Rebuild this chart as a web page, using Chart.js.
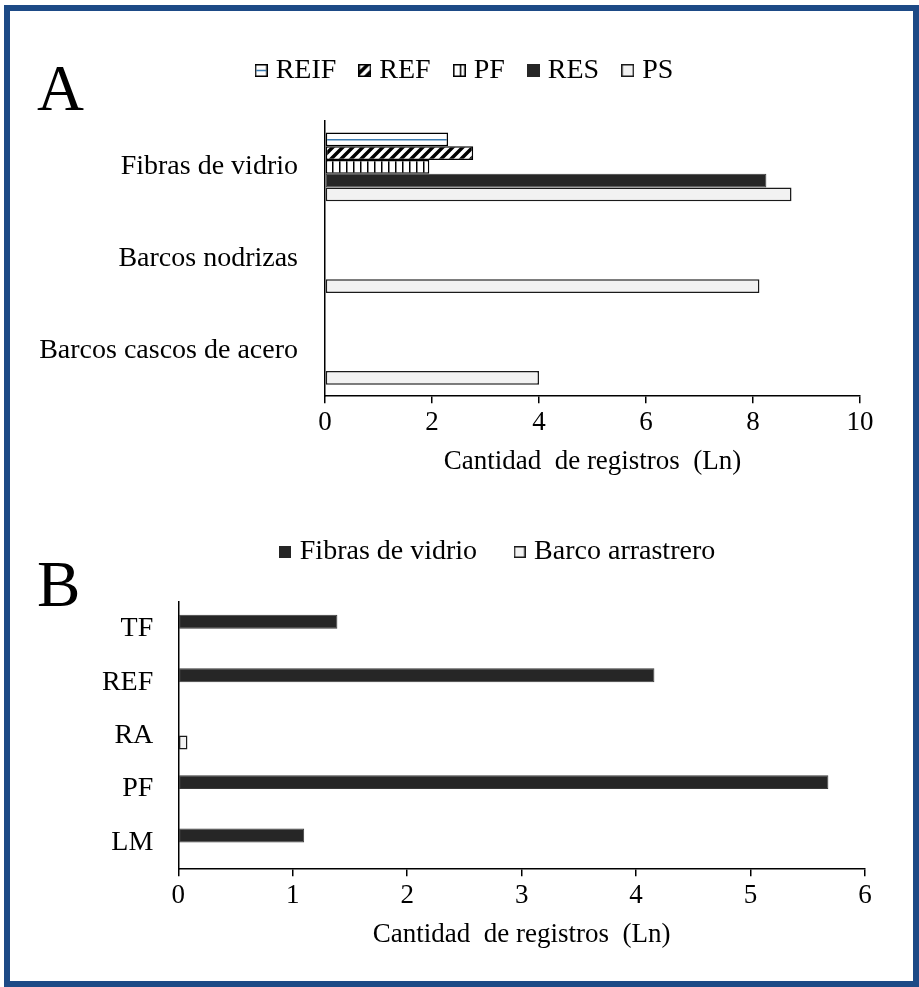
<!DOCTYPE html>
<html lang="es">
<head>
<meta charset="utf-8">
<title>Cantidad de registros (Ln)</title>
<script src="https://cdn.jsdelivr.net/npm/chart.js@4.4.1/dist/chart.umd.min.js"></script>
<style>
  html, body { margin: 0; padding: 0; background: #fff; }
  body { width: 919px; height: 987px; position: relative; overflow: hidden;
         font-family: 'Liberation Serif', 'Times New Roman', serif; }
  #marco { position: absolute; left: 4px; top: 5px; width: 915px; height: 982px;
           box-sizing: border-box; border: 6px solid #1d4a86; pointer-events: none; }
  .letra { position: absolute; font-size: 65px; line-height: 65px; color: #000; }
  #letraA { left: 37px; top: 56px; }
  #letraB { left: 37px; top: 552px; }
  #graficoA { position: absolute; left: 10px; top: 10px; width: 903px; height: 480px; }
  #graficoB { position: absolute; left: 80px; top: 495px; width: 834px; height: 485px; }
</style>
</head>
<body>
<canvas id="graficoA" width="903" height="480"></canvas>
<canvas id="graficoB" width="834" height="485"></canvas>
<div class="letra" id="letraA">A</div>
<div class="letra" id="letraB">B</div>
<div id="marco"></div>

<script>
// Panel A: categorias y series (Ln de la cantidad de registros)
const categoriasA = ['Fibras de vidrio', 'Barcos nodrizas', 'Barcos cascos de acero'];
const reifA = [2.3, null, null];
const refA = [2.77, null, null];
const pfA = [1.95, null, null];
const resA = [8.25, null, null];
const psA = [8.72, 8.12, 4.0];
const ticksA = [0, 2, 4, 6, 8, 10];

// Panel B
const categoriasB = ['TF', 'REF', 'RA', 'PF', 'LM'];
const fibrasB = [1.39, 4.16, null, 5.68, 1.1];
const arrastreroB = [null, null, 0.08, null, null];
const ticksB = [0, 1, 2, 3, 4, 5, 6];

const tituloEjeX = 'Cantidad  de registros  (Ln)';

Chart.defaults.font.family = "'Liberation Serif', 'Times New Roman', serif";
Chart.defaults.color = '#000';

// Tramas de relleno (como en Excel)
function crearTrama(tam, dibujar) {
    const c = document.createElement('canvas');
    c.width = tam;
    c.height = tam;
    const g = c.getContext('2d');
    g.fillStyle = '#ffffff';
    g.fillRect(0, 0, tam, tam);
    dibujar(g, tam);
    return g.createPattern(c, 'repeat');
}

const tramaHorizontal = crearTrama(7, (g, t) => {
    g.fillStyle = '#3a7ab0';
    g.fillRect(0, 3, t, 1.5);
});

const tramaDiagonal = crearTrama(10, (g, t) => {
    g.strokeStyle = '#000';
    g.lineWidth = 3.5;
    g.beginPath();
    g.moveTo(0, t); g.lineTo(t, 0);
    g.moveTo(-t / 2, t / 2); g.lineTo(t / 2, -t / 2);
    g.moveTo(t / 2, t * 1.5); g.lineTo(t * 1.5, t / 2);
    g.stroke();
});

const tramaVertical = crearTrama(7, (g, t) => {
    g.fillStyle = '#000';
    g.fillRect(0, 0, 1.5, t);
});

// Iconos de la leyenda (cuadro pequeno pegado al texto)
function crearIcono(tam, relleno, borde, grosor) {
    const c = document.createElement('canvas');
    c.width = tam;
    c.height = tam;
    const g = c.getContext('2d');
    g.fillStyle = relleno;
    g.fillRect(0, 0, tam, tam);
    g.strokeStyle = borde;
    g.lineWidth = grosor;
    g.strokeRect(grosor / 2, grosor / 2, tam - grosor, tam - grosor);
    return c;
}

function iconoReif(tam) {
    const c = crearIcono(tam, '#ffffff', '#000', 1.5);
    const g = c.getContext('2d');
    g.fillStyle = '#3a7ab0';
    g.fillRect(1.5, tam / 2 - 0.75, tam - 3, 1.5);
    return c;
}

const iconosA = [
    iconoReif(13),
    crearIcono(13, tramaDiagonal, '#000', 1.5),
    crearIcono(13, tramaVertical, '#000', 1.5),
    crearIcono(13, '#262626', '#262626', 1),
    crearIcono(13, '#f2f2f2', '#1a1a1a', 1.5)
];
const iconosB = [
    crearIcono(12, '#262626', '#262626', 1),
    crearIcono(12, '#f2f2f2', '#1a1a1a', 1.5)
];

function etiquetasCon(iconos) {
    return function (chart) {
        const items = Chart.defaults.plugins.legend.labels.generateLabels(chart);
        items.forEach((item, i) => { item.pointStyle = iconos[i]; });
        return items;
    };
}

// Espacio extra debajo de la leyenda y desplazamiento horizontal
const ajusteLeyenda = {
    id: 'ajusteLeyenda',
    beforeInit(chart, args, opts) {
        const fitOriginal = chart.legend.fit;
        chart.legend.fit = function () {
            fitOriginal.bind(chart.legend)();
            this.height += opts.gap || 0;
        };
    },
    afterLayout(chart, args, opts) {
        chart.legend.left += opts.dx || 0;
        chart.legend.right += opts.dx || 0;
    }
};

function ejeX(ticks) {
    return {
        min: ticks[0],
        max: ticks[ticks.length - 1],
        ticks: { stepSize: ticks[1] - ticks[0], font: { size: 27 }, padding: 4 },
        grid: { display: true, drawOnChartArea: false, drawTicks: true, tickLength: 7, color: '#000', lineWidth: 1.5 },
        border: { display: true, color: '#000', width: 1.5 },
        title: { display: true, text: tituloEjeX, font: { size: 27 }, padding: { top: 2, bottom: 2 } }
    };
}

function ejeY(ancho, relleno) {
    return {
        ticks: { font: { size: 28 }, padding: relleno },
        grid: { display: false, drawTicks: false },
        border: { display: true, color: '#000', width: 1.5 },
        afterFit(scale) { scale.width = ancho; }
    };
}

function leyenda(iconos, alto, espacio) {
    return {
        position: 'top',
        labels: {
            usePointStyle: true,
            boxWidth: 1,
            boxHeight: alto,
            padding: espacio,
            font: { size: 28 },
            color: '#000',
            generateLabels: etiquetasCon(iconos)
        }
    };
}

const configA = {
    type: 'bar',
    data: {
        labels: categoriasA,
        datasets: [
            { label: 'REIF', data: reifA, backgroundColor: tramaHorizontal, borderColor: '#000', borderWidth: 1.5 },
            { label: 'REF', data: refA, backgroundColor: tramaDiagonal, borderColor: '#000', borderWidth: 1.5 },
            { label: 'PF', data: pfA, backgroundColor: tramaVertical, borderColor: '#000', borderWidth: 1.5 },
            { label: 'RES', data: resA, backgroundColor: '#262626', borderColor: '#3a3a3a', borderWidth: 1 },
            { label: 'PS', data: psA, backgroundColor: '#f2f2f2', borderColor: '#1a1a1a', borderWidth: 1.5 }
        ]
    },
    options: {
        indexAxis: 'y',
        responsive: false,
        animation: false,
        devicePixelRatio: 1,
        datasets: { bar: { categoryPercentage: 0.75, barPercentage: 1, borderSkipped: false } },
        layout: { padding: { top: 18.5, right: 53, bottom: 10, left: 0 } },
        plugins: {
            legend: leyenda(iconosA, 13, 28),
            tooltip: { enabled: false },
            ajusteLeyenda: { gap: 26.5, dx: 32 }
        },
        scales: {
            x: ejeX(ticksA),
            y: ejeY(315, 27)
        }
    },
    plugins: [ajusteLeyenda]
};

const configB = {
    type: 'bar',
    data: {
        labels: categoriasB,
        datasets: [
            { label: 'Fibras de vidrio', data: fibrasB, backgroundColor: '#262626', borderColor: '#3a3a3a', borderWidth: 1 },
            { label: 'Barco arrastrero', data: arrastreroB, backgroundColor: '#f2f2f2', borderColor: '#1a1a1a', borderWidth: 1.5 }
        ]
    },
    options: {
        indexAxis: 'y',
        responsive: false,
        animation: false,
        devicePixelRatio: 1,
        datasets: { bar: { categoryPercentage: 0.52, barPercentage: 1, borderSkipped: false } },
        layout: { padding: { top: 1, right: 49, bottom: 27, left: 0 } },
        plugins: {
            legend: leyenda(iconosB, 12, 42),
            tooltip: { enabled: false },
            ajusteLeyenda: { gap: 26, dx: 27.5 }
        },
        scales: {
            x: ejeX(ticksB),
            y: ejeY(98.3, 25)
        }
    },
    plugins: [ajusteLeyenda]
};

new Chart(document.getElementById('graficoA'), configA);
new Chart(document.getElementById('graficoB'), configB);
</script>
</body>
</html>
